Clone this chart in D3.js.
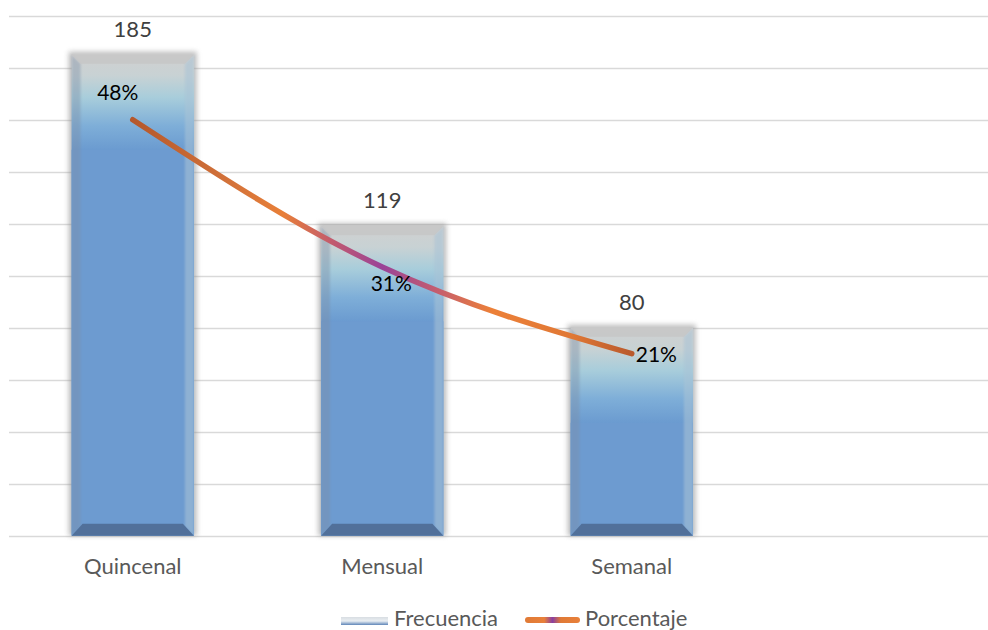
<!DOCTYPE html>
<html>
<head>
<meta charset="utf-8">
<script src="https://cdn.jsdelivr.net/npm/d3@7"></script>
<style>
  html, body { margin: 0; padding: 0; background: #fff; }
  svg { display: block; }
  text { font-family: Lato, "Open Sans", sans-serif; }
</style>
</head>
<body>
<svg id="chart" width="988" height="630"></svg>
<script>
const categories = ["Quincenal", "Mensual", "Semanal"];
const frecuencia = [185, 119, 80];
const porcentaje = [0.48, 0.31, 0.21];
const porcentajeLabels = ["48%", "31%", "21%"];
const yTicks = [0, 20, 40, 60, 80, 100, 120, 140, 160, 180, 200];
const seriesNames = ["Frecuencia", "Porcentaje"];

const W = 988, H = 630;
const svg = d3.select("#chart");
const defs = svg.append("defs");

const x = d3.scaleBand().domain(categories).range([8, 8 + 3 * 249.5])
  .paddingInner(0.51).paddingOuter(0.255);
const y = d3.scaleLinear().domain([0, 200]).range([535.7, 15.7]);
const y2 = d3.scaleLinear().domain([0, 0.6]).range([535.7, 15.7]);

// gridlines
svg.append("g").selectAll("line").data(yTicks).join("line")
  .attr("x1", 9).attr("x2", W)
  .attr("y1", d => Math.round(y(d)) + 0.5).attr("y2", d => Math.round(y(d)) + 0.5)
  .attr("stroke", "#d9d9d9").attr("stroke-width", 1.5);

// filters
const blur = defs.append("filter").attr("id", "shadow")
  .attr("x", "-20%").attr("y", "-20%").attr("width", "140%").attr("height", "140%");
blur.append("feGaussianBlur").attr("stdDeviation", 2.5);

const soft = defs.append("filter").attr("id", "soft")
  .attr("x", "-20%").attr("y", "-20%").attr("width", "140%").attr("height", "140%");
soft.append("feGaussianBlur").attr("stdDeviation", 1.2);

// bars
const bw = x.bandwidth();
const bev = 9;
const bars = svg.append("g").selectAll("g").data(categories).join("g");

bars.each(function(c, i) {
  const g = d3.select(this);
  const x0 = x(c), x1 = x0 + bw;
  const top = y(frecuencia[i]), bot = y(0);
  const gid = "bg" + i;
  const lg = defs.append("linearGradient").attr("id", gid)
    .attr("gradientUnits", "userSpaceOnUse")
    .attr("x1", 0).attr("x2", 0).attr("y1", top).attr("y2", top + 95);
  lg.append("stop").attr("offset", 0).attr("stop-color", "#d0d0d0");
  lg.append("stop").attr("offset", 0.22).attr("stop-color", "#c8d2d4");
  lg.append("stop").attr("offset", 0.45).attr("stop-color", "#a8cddb");
  lg.append("stop").attr("offset", 0.75).attr("stop-color", "#7eaed8");
  lg.append("stop").attr("offset", 1).attr("stop-color", "#6b9bd0");

  // shadow
  g.append("rect").attr("x", x0 - 3).attr("y", top - 3).attr("width", bw + 6)
    .attr("height", bot - top + 3).attr("fill", "#8c8c8c").attr("opacity", 0.55)
    .attr("filter", "url(#shadow)");
  // body
  g.append("rect").attr("x", x0).attr("y", top).attr("width", bw)
    .attr("height", bot - top).attr("fill", "url(#" + gid + ")");
  // lower body tint
  g.append("rect").attr("x", x0).attr("y", Math.min(bot, top + 95)).attr("width", bw)
    .attr("height", Math.max(0, bot - top - 95)).attr("fill", "#6d9bd0");
  // left bevel
  g.append("path").attr("d", `M${x0},${top} L${x0 + bev},${top + bev} L${x0 + bev},${bot - bev} L${x0},${bot} Z`)
    .attr("fill", "#7d8ea6").attr("opacity", 0.4).attr("filter", "url(#soft)");
  // right bevel
  g.append("path").attr("d", `M${x1},${top} L${x1 - bev},${top + bev} L${x1 - bev},${bot - bev} L${x1},${bot} Z`)
    .attr("fill", "#a9c3d6").attr("opacity", 0.55).attr("filter", "url(#soft)");
  // top bevel
  g.append("path").attr("d", `M${x0},${top} L${x1},${top} L${x1 - bev},${top + bev} L${x0 + bev},${top + bev} Z`)
    .attr("fill", "#c6c6c6").attr("opacity", 0.8);
  // bottom bevel
  g.append("path").attr("d", `M${x0},${bot} L${x1},${bot} L${x1 - bev - 2},${bot - bev - 3} L${x0 + bev + 2},${bot - bev - 3} Z`)
    .attr("fill", "#51709a");
});

// value labels
svg.append("g").selectAll("text").data(categories).join("text")
  .attr("x", c => x(c) + bw / 2)
  .attr("y", (c, i) => y(frecuencia[i]) - 18)
  .attr("text-anchor", "middle").attr("font-size", 22).attr("fill", "#404040")
  .text((c, i) => frecuencia[i]);

// line
const lineGrad = defs.append("linearGradient").attr("id", "lineGrad")
  .attr("gradientUnits", "userSpaceOnUse")
  .attr("x1", x(categories[0]) + bw / 2).attr("x2", x(categories[2]) + bw / 2)
  .attr("y1", 0).attr("y2", 0);
[[0, "#b5582c"], [0.2, "#d4733a"], [0.3, "#e87f38"], [0.4, "#c25a6e"], [0.5, "#9a4398"],
 [0.62, "#c8606a"], [0.72, "#ec8038"], [0.88, "#e07835"], [1, "#b9592c"]]
  .forEach(([o, c]) => lineGrad.append("stop").attr("offset", o).attr("stop-color", c));

const linePts = categories.map((c, i) => [x(c) + bw / 2, y2(porcentaje[i])]);
svg.append("path")
  .attr("d", d3.line().curve(d3.curveMonotoneX)(linePts))
  .attr("fill", "none").attr("stroke", "url(#lineGrad)").attr("stroke-width", 5.5)
  .attr("stroke-linecap", "round");

// percentage labels
const pctOffsets = [[-15, -20, "middle"], [9, 24, "middle"], [4, 8, "start"]];
svg.append("g").selectAll("text").data(categories).join("text")
  .attr("x", (c, i) => linePts[i][0] + pctOffsets[i][0])
  .attr("y", (c, i) => linePts[i][1] + pctOffsets[i][1])
  .attr("text-anchor", (c, i) => pctOffsets[i][2])
  .attr("font-size", 21).attr("fill", "#000")
  .text((c, i) => porcentajeLabels[i]);

// category labels
svg.append("g").selectAll("text").data(categories).join("text")
  .attr("x", c => x(c) + bw / 2).attr("y", 574)
  .attr("text-anchor", "middle").attr("font-size", 22).attr("fill", "#595959")
  .text(c => c);

// legend
const lgB = defs.append("linearGradient").attr("id", "legB").attr("x1", 0).attr("x2", 0).attr("y1", 0).attr("y2", 1);
lgB.append("stop").attr("offset", 0).attr("stop-color", "#d8dde2");
lgB.append("stop").attr("offset", 0.5).attr("stop-color", "#e9eef2");
lgB.append("stop").attr("offset", 1).attr("stop-color", "#5f86b8");
const lgL = defs.append("linearGradient").attr("id", "legL");
[[0, "#e07a36"], [0.35, "#e8803a"], [0.5, "#8a3fa0"], [0.65, "#e07a36"], [1, "#e8803a"]]
  .forEach(([o, c]) => lgL.append("stop").attr("offset", o).attr("stop-color", c));

const leg = svg.append("g");
leg.append("rect").attr("x", 341).attr("y", 617).attr("width", 47).attr("height", 8)
  .attr("fill", "url(#legB)");
leg.append("text").attr("x", 394).attr("y", 626).attr("font-size", 22).attr("fill", "#595959")
  .text(seriesNames[0]);
leg.append("rect").attr("x", 525).attr("y", 617).attr("width", 55).attr("height", 6)
  .attr("rx", 3).attr("fill", "url(#legL)");
leg.append("text").attr("x", 585).attr("y", 626).attr("font-size", 22).attr("fill", "#595959")
  .text(seriesNames[1]);
</script>
</body>
</html>
